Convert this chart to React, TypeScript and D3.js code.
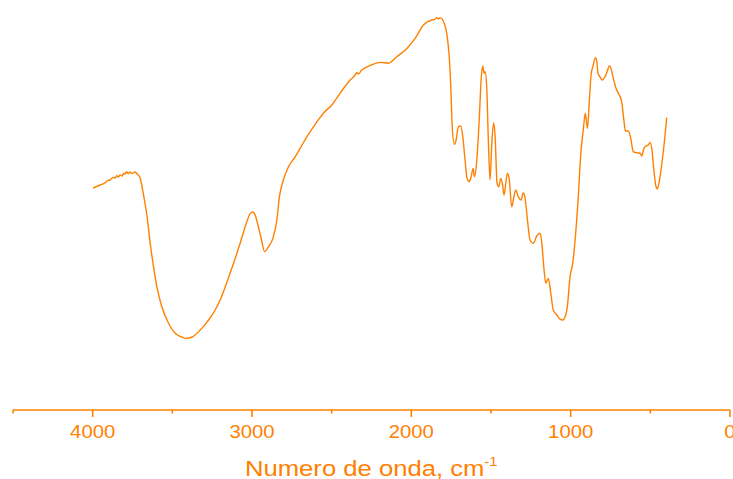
import React from "react";
import * as d3 from "d3";

// FTIR spectrum: wavenumber (cm-1) and relative transmittance (%)
const wavenumber = [
  3997, 3953, 3921, 3905, 3890, 3875, 3859, 3850, 3840, 3827, 3815, 3805, 3796, 3787, 3777, 3765,
  3755, 3746, 3733, 3721, 3702, 3683, 3660, 3639, 3618, 3597, 3566, 3524, 3482, 3451, 3413,
  3376, 3325, 3294, 3263, 3231, 3200, 3137, 3074, 3032, 3012, 2996, 2980, 2960, 2943, 2921,
  2897, 2869, 2844, 2828, 2803, 2771, 2729, 2698, 2656, 2614, 2577, 2552, 2499, 2447, 2384,
  2353, 2343, 2334, 2311, 2259, 2196, 2144, 2091, 2028, 1976, 1924, 1872, 1855, 1840, 1830,
  1820, 1794, 1778, 1763, 1752, 1744, 1730, 1719, 1705, 1690, 1677, 1663, 1650, 1636, 1625,
  1612, 1604, 1589, 1573, 1562, 1552, 1543, 1537, 1527, 1516, 1506, 1495, 1483, 1474, 1462,
  1451, 1439, 1429, 1418, 1407, 1397, 1385, 1370, 1360, 1345, 1328, 1311, 1297, 1286, 1269,
  1255, 1234, 1213, 1192, 1181, 1167, 1156, 1140, 1125, 1109, 1087, 1067, 1050, 1035, 1021,
  1004, 987, 972, 952, 937, 920, 908, 895, 883, 872, 858, 845, 836, 828, 816, 801, 784, 770,
  757, 747, 732, 715, 701, 680, 665, 657, 638, 623, 607, 585, 565, 554, 540, 527, 513, 502,
  491, 477, 464, 456, 444, 429, 414, 397,
];

const transmittance = [
  53.0, 53.75, 54.3, 54.9, 55.0, 55.6, 55.5, 56.1, 55.75, 56.25, 56.0, 56.7, 56.5, 57.1, 56.6, 57.0,
  56.6, 56.75, 57.0, 56.5, 55.5, 51.75, 46.25, 39.25, 33.3, 28.3, 23.3, 19.2, 16.7, 15.9, 15.4,
  15.75, 17.5, 18.9, 20.5, 22.5, 25.0, 31.75, 39.25, 44.6, 46.6, 47.0, 46.25, 43.3, 40.5, 37.1,
  38.3, 40.4, 45.0, 50.8, 55.0, 58.3, 60.8, 62.9, 65.8, 68.3, 70.4, 71.7, 73.75, 76.7, 80.0,
  81.25, 81.9, 81.5, 82.5, 83.6, 84.4, 84.2, 85.8, 87.9, 90.4, 93.75, 95.0, 95.1, 95.6, 95.3,
  95.6, 94.2, 91.7, 86.25, 77.9, 68.75, 63.9, 65.0, 68.3, 68.5, 65.8, 60.0, 55.4, 54.6, 55.8,
  57.9, 55.8, 60.0, 70.8, 80.0, 83.5, 81.7, 82.1, 78.3, 64.2, 55.0, 64.2, 69.3, 65.8, 54.2,
  53.3, 55.4, 54.2, 51.25, 54.2, 56.7, 55.0, 48.3, 50.0, 52.5, 50.8, 50.0, 51.8, 50.4, 44.2,
  40.0, 39.2, 41.0, 41.7, 39.2, 32.5, 29.2, 30.4, 26.7, 22.5, 21.25, 20.2, 20.0, 20.8, 23.3,
  30.8, 34.2, 40.0, 51.0, 61.25, 67.9, 71.7, 67.9, 74.6, 81.25, 83.75, 85.6, 84.6, 81.7, 80.8, 80.0, 80.8, 82.25,
  83.6, 82.9, 80.4, 77.9, 76.7, 74.6, 69.6, 67.25, 67.25, 65.4, 62.1, 61.8, 61.7, 61.0, 62.9, 63.5, 63.75, 64.4,
  62.9, 57.1, 53.3, 52.75, 54.6, 58.75, 63.75, 70.6,
];

const majorTicks = [4000, 3000, 2000, 1000, 0];
const minorTicks = [4500, 3500, 2500, 1500, 500];
const axisTitle = "Numero de onda, cm";
const axisTitleSup = "-1";

const W = 733;
const H = 479;
const ORANGE = "#FF8000";
// text in this chart is drawn slightly wide
const STRETCH = 1.14;

export default function App() {
  const x = d3.scaleLinear().domain([4500, 0]).range([13, 730]);
  const y = d3.scaleLinear().domain([0, 100]).range([400, 0]);
  const axisY = 410;

  const points: [number, number][] = wavenumber.map((w, i) => [w, transmittance[i]]);
  const line = d3
    .line<[number, number]>()
    .x((d) => x(d[0]))
    .y((d) => y(d[1]))
    .curve(d3.curveMonotoneX);

  return (
    <svg
      width={W}
      height={H}
      style={{ position: "absolute", left: 0, top: 0, background: "#fff" }}
      fontFamily="'Liberation Sans', Arial, sans-serif"
    >
      <path d={line(points) ?? ""} fill="none" stroke={ORANGE} strokeWidth={1.4} />

      <line x1={x(4500)} x2={x(0)} y1={axisY} y2={axisY} stroke={ORANGE} strokeWidth={1.6} />
      {majorTicks.map((t) => (
        <g key={`M${t}`}>
          <line x1={x(t)} x2={x(t)} y1={axisY} y2={axisY + 7} stroke={ORANGE} strokeWidth={1.6} />
          <text
            transform={`translate(${x(t)},438) scale(${STRETCH},1)`}
            textAnchor="middle"
            fontSize={17.8}
            fill={ORANGE}
          >
            {t}
          </text>
        </g>
      ))}
      {minorTicks.map((t) => (
        <line key={`m${t}`} x1={x(t)} x2={x(t)} y1={axisY} y2={axisY + 3.5} stroke={ORANGE} strokeWidth={1.6} />
      ))}

      <text transform={`translate(245,476) scale(${STRETCH + 0.01},1)`} fontSize={22.3} fill={ORANGE}>
        {axisTitle}
        <tspan dy={-10} fontSize={13}>
          {axisTitleSup}
        </tspan>
      </text>
    </svg>
  );
}
